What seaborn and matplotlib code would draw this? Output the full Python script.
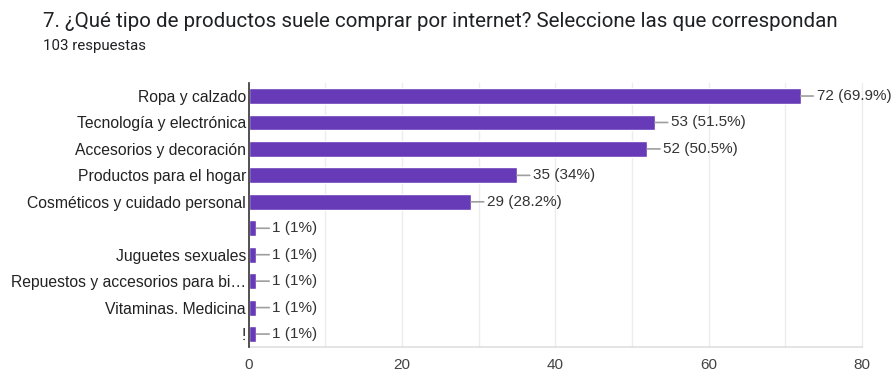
import matplotlib
matplotlib.use("Agg")
import matplotlib.pyplot as plt
import seaborn as sns
import pandas as pd

# Survey responses (question 7)
categories = [
    "Ropa y calzado",
    "Tecnología y electrónica",
    "Accesorios y decoración",
    "Productos para el hogar",
    "Cosméticos y cuidado personal",
    "",
    "Juguetes sexuales",
    "Repuestos y accesorios para bi…",
    "Vitaminas. Medicina",
    "!",
]
counts = [72, 53, 52, 35, 29, 1, 1, 1, 1, 1]
percents = ["69.9%", "51.5%", "50.5%", "34%", "28.2%", "1%", "1%", "1%", "1%", "1%"]
x_ticks = [0, 20, 40, 60, 80]

df = pd.DataFrame({"categoria": categories, "respuestas": counts})

sns.set_theme(style="white")
plt.rcParams["font.family"] = ["Liberation Sans", "DejaVu Sans"]

fig = plt.figure(figsize=(8.95, 3.73), dpi=100)
ax = fig.add_axes([0.278, 0.069, 0.685, 0.709])

sns.barplot(data=df, x="respuestas", y="categoria", order=categories,
            color="#673AB7", saturation=1, width=0.6, orient="h", ax=ax)

# vertical grid every 10, labels every 20
for gx in range(10, 81, 10):
    ax.axvline(gx, color="#ececec", lw=1, zorder=0, clip_on=False)
ax.set_xlim(0, 80)
ax.set_xticks(x_ticks)
ax.set_xticklabels([str(t) for t in x_ticks], fontsize=11, color="#444444")
ax.tick_params(axis="both", length=0)
ax.tick_params(axis="x", pad=8)
ax.tick_params(axis="y", pad=2, labelsize=11.3, labelcolor="#222222")
ax.set_xlabel("")
ax.set_ylabel("")

for side in ["top", "right"]:
    ax.spines[side].set_visible(False)
ax.spines["bottom"].set_color("#e0e0e0")
ax.spines["left"].set_color("#333333")
ax.spines["left"].set_linewidth(1.2)
ax.spines["left"].set_zorder(5)

# value labels with short leader lines
for i, (c, p) in enumerate(zip(counts, percents)):
    ax.annotate(f"{c} ({p})", xy=(c, i), xytext=(16, 0), textcoords="offset pixels",
                va="center", ha="left", fontsize=11, color="#333333",
                arrowprops=dict(arrowstyle="-", color="#9e9e9e", lw=1.2,
                                shrinkA=0, shrinkB=0))

fig.text(0.048, 0.928, "7. ¿Qué tipo de productos suele comprar por internet? Seleccione las que correspondan",
         fontsize=14.8, color="#202124", family=["Roboto", "DejaVu Sans"], va="baseline")
fig.text(0.048, 0.866, "103 respuestas", fontsize=10.8, color="#202124",
         family=["Roboto", "DejaVu Sans"], va="baseline")

fig.savefig("out.png", dpi=100)
